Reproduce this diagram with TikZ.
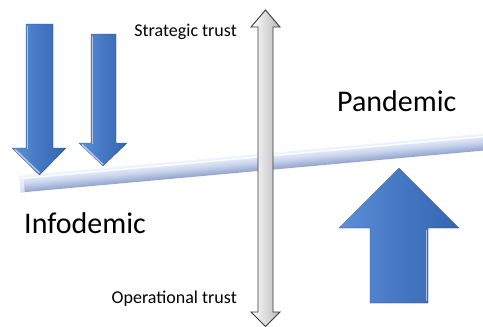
\documentclass[tikz,border=0pt]{standalone}
\usepackage{fontspec}
\setmainfont{Carlito}
\definecolor{arrowL}{HTML}{5E90D8}
\definecolor{arrowM}{HTML}{4677C2}
\definecolor{arrowR}{HTML}{3666B2}
\definecolor{barTop}{HTML}{F2F5FB}
\definecolor{barMid}{HTML}{C8D3EC}
\definecolor{barBot}{HTML}{8FA2CC}
\definecolor{edgeGray}{HTML}{3A3A3A}
\begin{document}
\begin{tikzpicture}[x=1pt,y=-1pt,
  bluearrow/.style={left color=arrowL, right color=arrowR, middle color=arrowM, draw=arrowR!70!black, line width=0.3pt},
  hilite/.style={draw=white, opacity=0.55, line width=1.6pt},
  trustarrow/.style={left color=white, right color=black!28, draw=edgeGray, line width=0.9pt, line join=miter},
  smalllabel/.style={font=\fontsize{18}{20}\selectfont, inner sep=0pt},
  biglabel/.style={font=\fontsize{30}{34}\selectfont, inner sep=0pt}]
\useasboundingbox (0,0) rectangle (483,327);

% tilted bar (seesaw)
\begin{scope}[transform canvas={rotate around={5.18:(20,184)}}]
  \shade[top color=barTop, bottom color=barBot, middle color=barMid] (20,175.5) rectangle (490,192.5);
  \draw[white, opacity=0.85, line width=1.5pt] (22,178.5) -- (488,178.5);
  \fill[barTop, opacity=0.7] (20,175.5) rectangle (24,192.5);
\end{scope}

% left down arrows (infodemic)
\path[bluearrow] (26,24) -- (53,24) -- (53,148) -- (66,148) -- (39.5,175) -- (12,148) -- (26,148) -- cycle;
\draw[hilite] (27.5,26) -- (27.5,149);
\draw[hilite] (15,149.5) -- (39.5,173);
\path[bluearrow] (91,34) -- (116,34) -- (116,143) -- (127,143) -- (103,166) -- (79,143) -- (91,143) -- cycle;
\draw[hilite] (92.5,36) -- (92.5,144);
\draw[hilite] (82,144.5) -- (103,164.5);

% up arrow (pandemic)
\path[bluearrow] (370,303) -- (428,303) -- (428,228) -- (459,228) -- (399,168) -- (339,228) -- (370,228) -- cycle;
\draw[hilite] (426.5,230) -- (426.5,301);

% vertical double arrow (trust)
\path[trustarrow] (265.5,10) -- (280,27) -- (273,27) -- (273,312) -- (280,312) -- (265.5,326.5) -- (251,312) -- (258,312) -- (258,27) -- (251,27) -- cycle;

% labels
\node[smalllabel, anchor=base east] (strat) at (237,36) {Strategic trust};
\node[smalllabel, anchor=base east] (oper) at (237,303) {Operational trust};
\node[biglabel, anchor=base west] (pand) at (337,111) {Pandemic};
\node[biglabel, anchor=base west] (info) at (24,233) {Infodemic};
\end{tikzpicture}
\end{document}
